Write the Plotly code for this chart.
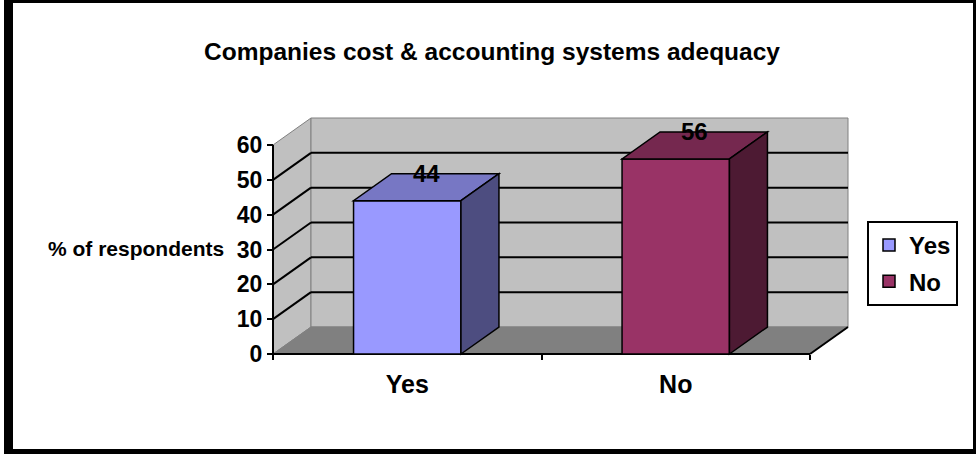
import plotly.graph_objects as go

# ---------------- data ----------------
categories = ["Yes", "No"]
values = [44, 56]
bar_front = ["#9999FF", "#993366"]
bar_top = ["#7777C4", "#75284F"]
bar_side = ["#4D4D80", "#4D1A33"]
y_ticks = [0, 10, 20, 30, 40, 50, 60]
y_max = 60
title = "Companies cost & accounting systems adequacy"
y_title = "% of respondents"

# ---------------- layout geometry ----------------
W, H = 976, 454
ML, MR, MT, MB = 260, 112, 110, 92
PW, PH = W - ML - MR, H - MT - MB
X0_PX, Y0_PX = 273, 354          # pixel of data origin
PX_PER_X = 537 / 2.0
PX_PER_Y = 209 / 60.0
x_range = [-(X0_PX - ML) / PX_PER_X, (W - MR - X0_PX) / PX_PER_X]
y_range = [-(H - MB - Y0_PX) / PX_PER_Y, (Y0_PX - MT) / PX_PER_Y]
DX = 38 / PX_PER_X               # depth offset (data units)
DY = 27 / PX_PER_Y
BW = 0.4                          # bar width
n = len(categories)
centers = [i + 0.5 for i in range(n)]

def pxx(p):
    return (p - ML) / PW

def pxy(p):
    return (H - MB - p) / PH

FONT = "Arial, Liberation Sans, sans-serif"

fig = go.Figure()

# bars (front faces)
for i, (cat, v) in enumerate(zip(categories, values)):
    fig.add_trace(go.Bar(
        x=[centers[i]], y=[v], width=BW, name=cat,
        legendgroup=cat,
        marker=dict(color=bar_front[i], line=dict(color="black", width=1.5)),
        hoverinfo="skip",
    ))

shapes = []
# outer frame (paper)
shapes.append(dict(type="rect", xref="paper", yref="paper", layer="below",
                   x0=pxx(4), x1=pxx(976), y0=pxy(0), y1=pxy(454),
                   fillcolor="black", line=dict(width=0)))
shapes.append(dict(type="rect", xref="paper", yref="paper", layer="below",
                   x0=pxx(13), x1=pxx(973), y0=pxy(3), y1=pxy(449),
                   fillcolor="white", line=dict(width=0)))

def poly(pts):
    return "M " + " L ".join(f"{x},{y}" for x, y in pts) + " Z"

def seg(x0, y0, x1, y1, color="black", width=2, layer="below"):
    return dict(type="line", xref="x", yref="y", layer=layer,
                x0=x0, y0=y0, x1=x1, y1=y1, line=dict(color=color, width=width))

# walls
shapes.append(dict(type="path", xref="x", yref="y", layer="below",
                   path=poly([(0, 0), (DX, DY), (DX, y_max + DY), (0, y_max)]),
                   fillcolor="#C0C0C0", line=dict(color="#808080", width=1)))
shapes.append(dict(type="path", xref="x", yref="y", layer="below",
                   path=poly([(DX, DY), (n + DX, DY), (n + DX, y_max + DY), (DX, y_max + DY)]),
                   fillcolor="#C0C0C0", line=dict(color="#808080", width=1)))
shapes.append(dict(type="path", xref="x", yref="y", layer="below",
                   path=poly([(0, 0), (n, 0), (n + DX, DY), (DX, DY)]),
                   fillcolor="#808080", line=dict(color="#808080", width=1)))
# gridlines
for v in y_ticks[1:-1]:
    shapes.append(seg(0, v, DX, v + DY))
    shapes.append(seg(DX, v + DY, n + DX, v + DY))
# floor edges and y axis line
shapes.append(seg(0, 0, n, 0))
shapes.append(seg(n, 0, n + DX, DY))
shapes.append(seg(0, -0.8, 0, y_max))

# bar top and side faces
for i, v in enumerate(values):
    l, r = centers[i] - BW / 2, centers[i] + BW / 2
    shapes.append(dict(type="path", xref="x", yref="y", layer="above",
                       path=poly([(l, v), (r, v), (r + DX, v + DY), (l + DX, v + DY)]),
                       fillcolor=bar_top[i], line=dict(color="black", width=1.5)))
    shapes.append(dict(type="path", xref="x", yref="y", layer="above",
                       path=poly([(r, 0), (r + DX, DY), (r + DX, v + DY), (r, v)]),
                       fillcolor=bar_side[i], line=dict(color="black", width=1.5)))

annotations = []
for i, v in enumerate(values):
    annotations.append(dict(x=centers[i] + DX / 2, y=v + DY, xref="x", yref="y",
                            text=str(v), showarrow=False, yanchor="middle",
                            font=dict(family=FONT, size=24, color="black", weight="bold")))
annotations.append(dict(x=pxx(226), y=pxy(248), xref="paper", yref="paper",
                        text=y_title, showarrow=False, xanchor="right", yanchor="middle",
                        font=dict(family=FONT, size=21, color="black", weight="bold")))

fig.update_layout(
    width=W, height=H,
    margin=dict(l=ML, r=MR, t=MT, b=MB, pad=0),
    paper_bgcolor="white", plot_bgcolor="rgba(0,0,0,0)",
    barmode="overlay",
    title=dict(text=title, x=492 / W, xanchor="center", y=1 - 51 / H, yanchor="middle",
               font=dict(family=FONT, size=24.5, color="black", weight="bold")),
    xaxis=dict(range=x_range, anchor="free", position=(H - MB - Y0_PX) / PH,
               showgrid=False, zeroline=False, showline=False,
               tickvals=centers, ticktext=categories, ticks="", ticklabelstandoff=13,
               tickfont=dict(family=FONT, size=25, color="black", weight="bold"),
               minor=dict(tickvals=list(range(n + 1)), ticks="outside", ticklen=5,
                          tickwidth=2, tickcolor="black", showgrid=False),
               fixedrange=True),
    yaxis=dict(range=y_range, anchor="free", position=(X0_PX - ML) / PW,
               showgrid=False, zeroline=False, showline=False,
               tickvals=y_ticks, ticks="outside", ticklen=6, tickwidth=2, tickcolor="black",
               tickfont=dict(family=FONT, size=23, color="black", weight="bold"),
               fixedrange=True),
    legend=dict(x=pxx(867), y=pxy(221), xanchor="left", yanchor="top",
                bordercolor="black", borderwidth=2, bgcolor="white",
                traceorder="grouped", tracegroupgap=2,
                font=dict(family=FONT, size=24, color="black", weight="bold")),
    shapes=shapes, annotations=annotations,
    showlegend=True,
)

fig.write_html("out.html", config={"displayModeBar": False})
